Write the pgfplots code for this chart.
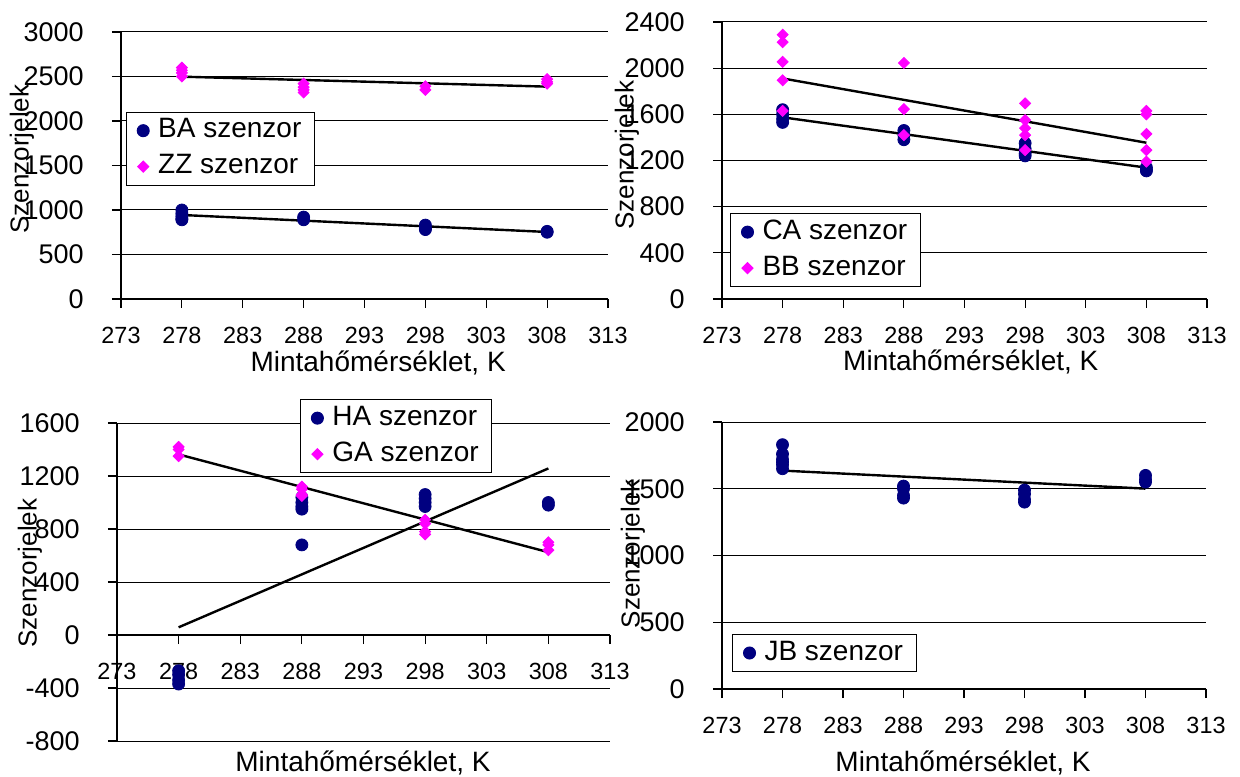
\documentclass[border=0pt]{standalone}
\usepackage{fontspec}
\setmainfont{Liberation Sans}
\usepackage{pgfplots}
\pgfplotsset{compat=1.18}
\definecolor{sernavy}{RGB}{0,0,128}
\definecolor{sermag}{RGB}{255,0,255}

\pgfplotsset{
  sensor/.style={
    scale only axis,
    axis lines*=left,
    xmin=273, xmax=313,
    xtick={273,278,...,313},
    ymajorgrids,
    grid style={black, line width=0.5pt},
    axis line style={black, line width=0.6pt},
    tick style={black, line width=0.6pt},
    tick align=outside,
    major tick length=4.5pt,
    /pgf/number format/assume math mode=true,
    /pgf/number format/1000 sep={},
    scaled y ticks=false,
    xticklabel style={font=\fontsize{11.7}{13}\selectfont,
      inner sep=0pt, anchor=north, yshift=-9.5pt},
    yticklabel style={font=\fontsize{13.5}{15}\selectfont,
      inner sep=0pt, anchor=east, xshift=-14pt},
    xlabel style={font=\fontsize{14}{16}\selectfont},
    ylabel style={font=\fontsize{13}{15}\selectfont},
    ylabel=Szenzorjelek,
    xlabel={Mintahőmérséklet, K},
    legend cell align=left,
    % one mark per entry, with a little empty room after it
    legend image code/.code={\draw[##1] plot coordinates {(0pt,0pt)};
      \path[draw=none, fill=none] (-3pt,-0.1pt) rectangle (6.5pt,0.1pt);},
    legend style={draw=black, line width=0.5pt, fill=white,
      font=\fontsize{14}{16}\selectfont, anchor=north west,
      inner xsep=5.5pt, inner ysep=1.75pt, row sep=3pt, column sep=0pt,
      nodes={inner sep=1pt, text height=10pt, text depth=3pt}},
  },
  navydot/.style={only marks, mark=*, mark size=3pt, color=sernavy},
  magdiam/.style={only marks, mark=square*, mark size=1.95pt,
    mark options={rotate=45}, color=sermag},
  trend/.style={black, line width=1.2pt, no marks, forget plot},
}

\begin{document}
\begin{tikzpicture}
\useasboundingbox (0,0) rectangle (620pt,388pt);

% BA and ZZ sensors
\begin{axis}[sensor, at={(60.5pt,238.5pt)}, anchor=south west,
  width=243.5pt, height=133.5pt,
  ymin=0, ymax=3000, ytick={0,500,...,3000},
  ylabel style={at={(axis description cs:-0.2033,0.524)}, anchor=center},
  xlabel style={at={(axis description cs:0.528,-0.2397)}, anchor=center},
  legend style={at={(axis description cs:0.0097,0.7015)}}]
\addplot[navydot] coordinates {(278,1000)(278,960)(278,930)(278,900)(278,890)
  (288,920)(288,890)(298,830)(298,790)(298,780)(308,760)(308,750)};
\addlegendentry{BA szenzor}
\addplot[magdiam] coordinates {(278,2600)(278,2570)(278,2540)(278,2500)
  (288,2420)(288,2380)(288,2350)(288,2320)(298,2390)(298,2350)
  (308,2470)(308,2440)(308,2420)};
\addlegendentry{ZZ szenzor}
\addplot[trend] coordinates {(278,944)(308,753)};
\addplot[trend] coordinates {(278,2498)(308,2386)};
\end{axis}

% CA and BB sensors
\begin{axis}[sensor, at={(361pt,238.5pt)}, anchor=south west,
  width=242.5pt, height=138.5pt,
  ymin=0, ymax=2400, ytick={0,400,...,2400},
  ylabel style={at={(axis description cs:-0.196,0.52)}, anchor=center},
  xlabel style={at={(axis description cs:0.513,-0.227)}, anchor=center},
  legend style={at={(axis description cs:0.0165,0.31)}}]
\addplot[navydot] coordinates {(278,1640)(278,1600)(278,1560)(278,1530)
  (288,1460)(288,1420)(288,1380)(298,1350)(298,1300)(298,1260)(298,1240)
  (308,1140)(308,1120)(308,1110)};
\addlegendentry{CA szenzor}
\addplot[magdiam] coordinates {(278,2290)(278,2225)(278,2055)(278,1895)(278,1630)
  (288,2045)(288,1645)(288,1420)(298,1695)(298,1550)(298,1480)(298,1420)(298,1290)
  (308,1630)(308,1600)(308,1430)(308,1290)(308,1190)};
\addlegendentry{BB szenzor}
\addplot[trend] coordinates {(278,1574)(308,1138)};
\addplot[trend] coordinates {(278,1911)(308,1354)};
\end{axis}

% HA and GA sensors: the x axis runs along y = 0
\begin{axis}[sensor, axis x line*=middle, axis y line*=left,
  hide obscured x ticks=false, hide obscured y ticks=false,
  at={(58.5pt,17.5pt)}, anchor=south west,
  width=246.5pt, height=159pt,
  ymin=-800, ymax=1600, ytick={-800,-400,...,1600},
  ylabel style={at={(axis description cs:-0.1765,0.528)}, anchor=center},
  xlabel style={at={(axis description cs:0.499,-0.069)}, anchor=center},
  legend style={at={(axis description cs:0.371,1.075)}}]
\addplot[navydot] coordinates {(278,-270)(278,-300)(278,-340)(278,-370)
  (288,1040)(288,1000)(288,970)(288,950)(288,680)
  (298,1060)(298,1030)(298,1000)(298,970)(308,1000)(308,980)};
\addlegendentry{HA szenzor}
\addplot[magdiam] coordinates {(278,1420)(278,1400)(278,1350)
  (288,1120)(288,1100)(288,1060)(288,1050)(298,870)(298,840)(298,780)(298,760)
  (308,700)(308,680)(308,640)};
\addlegendentry{GA szenzor}
\addplot[trend] coordinates {(278,58)(308,1257)};
\addplot[trend] coordinates {(278,1363)(308,625)};
\end{axis}

% JB sensor
\begin{axis}[sensor, at={(361pt,43.5pt)}, anchor=south west,
  width=242pt, height=133.5pt,
  ymin=0, ymax=2000, ytick={0,500,...,2000},
  ylabel style={at={(axis description cs:-0.184,0.506)}, anchor=center},
  xlabel style={at={(axis description cs:0.498,-0.277)}, anchor=center},
  legend style={at={(axis description cs:0.0207,0.206)}}]
\addplot[navydot] coordinates {(278,1830)(278,1760)(278,1720)(278,1700)(278,1680)(278,1650)
  (288,1520)(288,1500)(288,1450)(288,1430)(298,1490)(298,1460)(298,1420)(298,1400)
  (308,1600)(308,1570)(308,1550)};
\addlegendentry{JB szenzor}
\addplot[trend] coordinates {(278,1636)(308,1501)};
\end{axis}
\end{tikzpicture}
\end{document}
